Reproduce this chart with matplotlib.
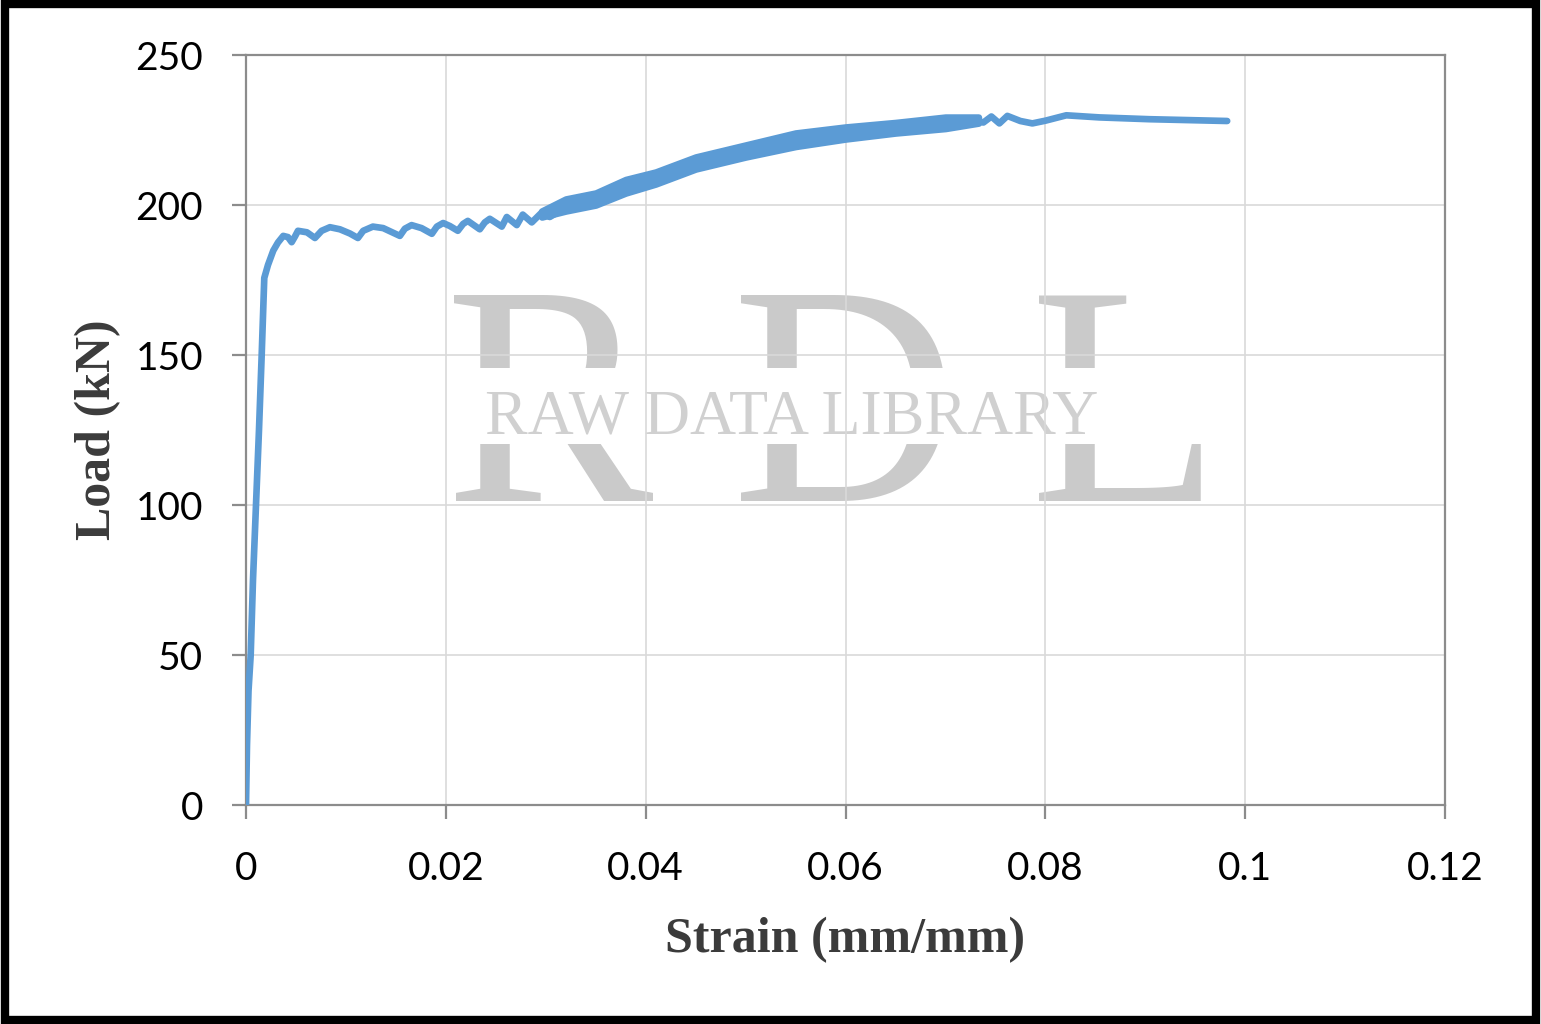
import matplotlib
matplotlib.use("Agg")
import matplotlib.pyplot as plt
from matplotlib.patches import Rectangle

# strain / load
strain = [0, 0.0001, 0.00025, 0.00047, 0.0007, 0.001, 0.0013, 0.00157, 0.00183,
          0.0022, 0.00273, 0.0032, 0.00373, 0.0042, 0.00457, 0.0049, 0.0052,
          0.0061, 0.0069, 0.00757, 0.0084, 0.0094, 0.0104, 0.0112, 0.01173,
          0.0127, 0.01373, 0.0154, 0.0159, 0.01657, 0.01757, 0.0186, 0.0191,
          0.01973, 0.0204, 0.0212, 0.02173, 0.0222, 0.0234, 0.0239, 0.0244,
          0.0256, 0.0261, 0.0271, 0.0277, 0.0286, 0.0296,
          0.0304, 0.0327, 0.0361, 0.0377, 0.04, 0.0427, 0.0461, 0.0494,
          0.0527, 0.0561, 0.06, 0.0627, 0.0661, 0.0694, 0.0727, 0.0738,
          0.0746, 0.0754, 0.0762, 0.0775, 0.0787, 0.08, 0.0821, 0.0854,
          0.0904, 0.0982]
load = [0, 20, 38, 50, 75, 100, 125, 150, 175.7,
        180, 184.8, 187.5, 189.7, 189.3, 187.6, 189.5, 191.4,
        190.9, 189.0, 191.4, 192.6, 191.9, 190.5, 189.0, 191.4,
        192.8, 192.3, 189.7, 192.1, 193.3, 192.3, 190.4, 192.8,
        194.0, 193.0, 191.4, 193.7, 194.7, 191.9, 194.2, 195.4,
        192.8, 196, 193.3, 196.8, 194.2, 197.5,
        196, 200.6, 202.2, 206.7, 208.3, 211.7, 215, 217.8,
        220.6, 222.2, 223.9, 225, 226.3, 227.2, 228.3, 227.5,
        229.5, 227.2, 229.7, 228.0, 227.2, 228.1, 229.9, 229.2,
        228.6, 228]

# scatter band of the noisy hardening part (low / high edges)
band_strain = [0.0296, 0.032, 0.035, 0.038, 0.041, 0.045, 0.05, 0.055,
               0.06, 0.065, 0.07, 0.0733]
band_low = [196, 198, 200, 204, 207, 212, 216, 219.5,
            222, 224, 225.5, 227.3]
band_high = [198, 202, 204, 208.5, 211, 216, 220, 224,
             226, 227.5, 229.3, 229.3]

x_ticks = [0, 0.02, 0.04, 0.06, 0.08, 0.1, 0.12]
x_tick_labels = ["0", "0.02", "0.04", "0.06", "0.08", "0.1", "0.12"]
y_ticks = [0, 50, 100, 150, 200, 250]

blue = "#5B9BD5"
wm = "#cacaca"

fig = plt.figure(figsize=(15.41, 10.24), dpi=100)

# watermark drawn behind the (transparent) axes
for letter, xp in [("R", 445), ("D", 732), ("L", 1030)]:
    fig.text(xp / 1541, 1 - 501 / 1024, letter, fontsize=225, color=wm,
             family="Liberation Serif", ha="left", va="baseline", zorder=0)
fig.patches.append(Rectangle((0.2, 1 - 444 / 1024), 0.65, 76 / 1024,
                             transform=fig.transFigure, facecolor="white",
                             edgecolor="none", zorder=0.5))
fig.text(485 / 1541, 1 - 434 / 1024, "RAW DATA LIBRARY", fontsize=46,
         color="#d0d0d0", family="Liberation Serif", ha="left",
         va="baseline", zorder=1)

ax = fig.add_axes([246 / 1541, 1 - 805 / 1024, 1199 / 1541, 750 / 1024])
ax.set_facecolor("none")
ax.set_zorder(2)

ax.fill_between(band_strain, band_low, band_high, color=blue,
                linewidth=4.8, zorder=3)
ax.plot(strain, load, color=blue, linewidth=4.8, solid_joinstyle="round",
        solid_capstyle="round", zorder=3)

ax.set_xlim(0, 0.12)
ax.set_ylim(0, 250)
ax.set_xticks(x_ticks)
ax.set_xticklabels(x_tick_labels)
ax.set_yticks(y_ticks)
ax.grid(True, color="#d9d9d9", linewidth=1.2, zorder=0)
ax.set_axisbelow(True)

for sp in ax.spines.values():
    sp.set_color("#8c8c8c")
    sp.set_linewidth(1.6)
ax.tick_params(axis="both", direction="out", length=10, width=1.6,
               color="#8c8c8c", labelsize=28, labelcolor="black")
ax.tick_params(axis="y", pad=21)
ax.tick_params(axis="x", pad=23)
for lab in ax.get_xticklabels() + ax.get_yticklabels():
    lab.set_family("Lato")

ax.set_xlabel("Strain (mm/mm)", fontsize=36, fontweight="bold",
              family="Liberation Serif", color="#3b3b3b", labelpad=22)
ax.set_ylabel("Load (kN)", fontsize=36, fontweight="bold",
              family="Liberation Serif", color="#3b3b3b", labelpad=10)

# black frame around the whole picture
fig.patches.append(Rectangle((0.003, 0.004), 0.994, 0.992,
                             transform=fig.transFigure, fill=False,
                             edgecolor="black", linewidth=6, zorder=10))

fig.savefig("out.png", dpi=100)
